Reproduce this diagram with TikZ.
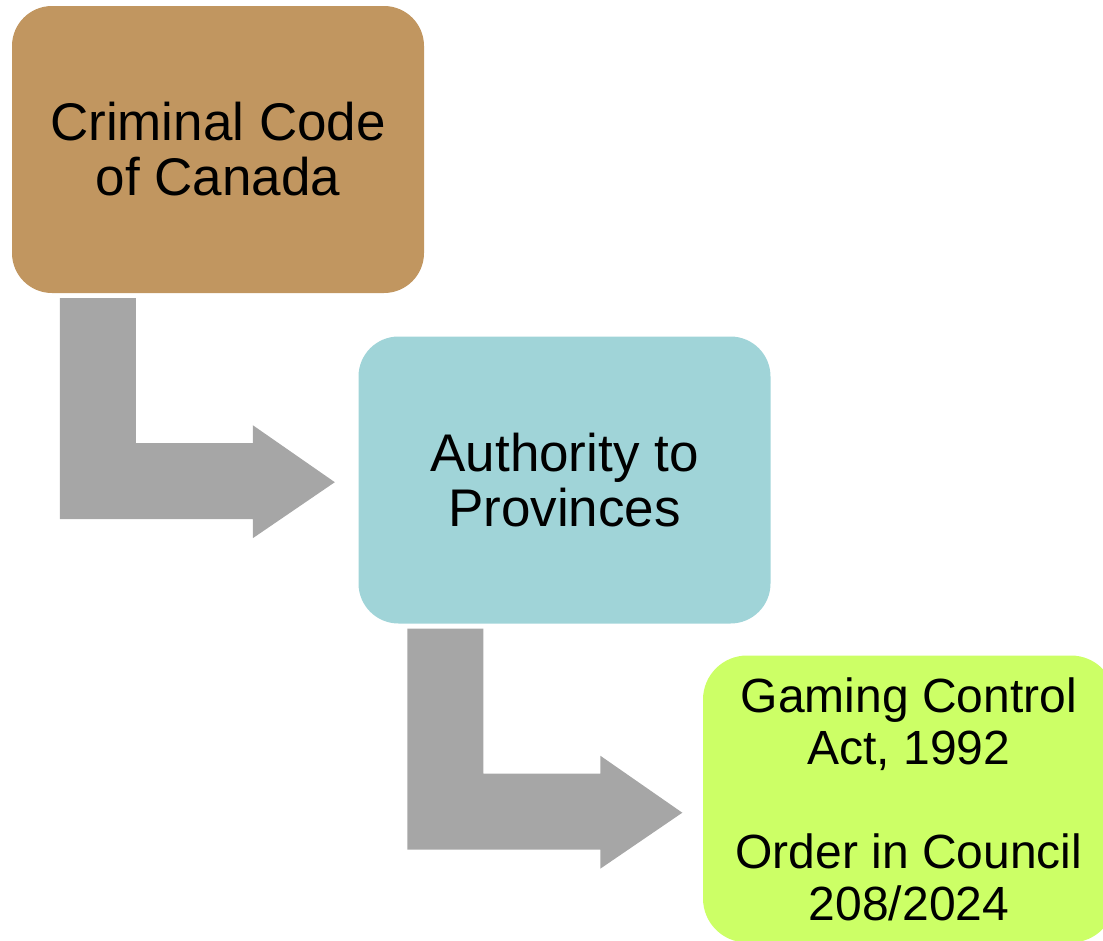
\documentclass[tikz,border=0pt]{standalone}
\usepackage{fontspec}
\setmainfont{Liberation Sans}
\usetikzlibrary{calc}
\definecolor{codetan}{HTML}{C19660}
\definecolor{provteal}{HTML}{A0D4D8}
\definecolor{actlime}{HTML}{CCFF66}
\definecolor{flowgray}{HTML}{A6A6A6}
\tikzset{
  stage/.style={rounded corners=40pt, inner sep=0pt, align=center,
    minimum width=412pt, minimum height=287pt, text=black},
  bigtext/.style={font=\fontsize{53}{55}\selectfont},
  smalltext/.style={font=\fontsize{48}{52}\selectfont},
}
% bent arrow: vertical stem from the top left, turning right into a head
\newcommand{\bentarrow}[1]{%
  \fill[flowgray, shift={(#1)}] (0,0) -- (76,0) -- (76,145) -- (193,145) -- (193,127)
    -- (275,184) -- (193,240) -- (193,221) -- (0,221) -- cycle;}
\begin{document}
\begin{tikzpicture}[x=1pt, y=-1pt]
  \useasboundingbox (0,0) rectangle (1103,940);
  \clip (0,0) rectangle (1103,940);
  \node[stage, bigtext, fill=codetan] (code) at (218,149.5) {Criminal Code\\of Canada};
  \node[stage, bigtext, fill=provteal] (prov) at (564.5,480) {Authority to\\Provinces};
  \node[stage, smalltext, fill=actlime, rounded corners=44pt] (act) at (909,799)
    {Gaming Control\\Act, 1992\\[52pt]Order in Council\\208/2024};
  \coordinate (a1) at ($(code.south west)+(48,5)$);
  \coordinate (a2) at ($(prov.south west)+(49,5)$);
  \bentarrow{a1}
  \bentarrow{a2}
\end{tikzpicture}
\end{document}
